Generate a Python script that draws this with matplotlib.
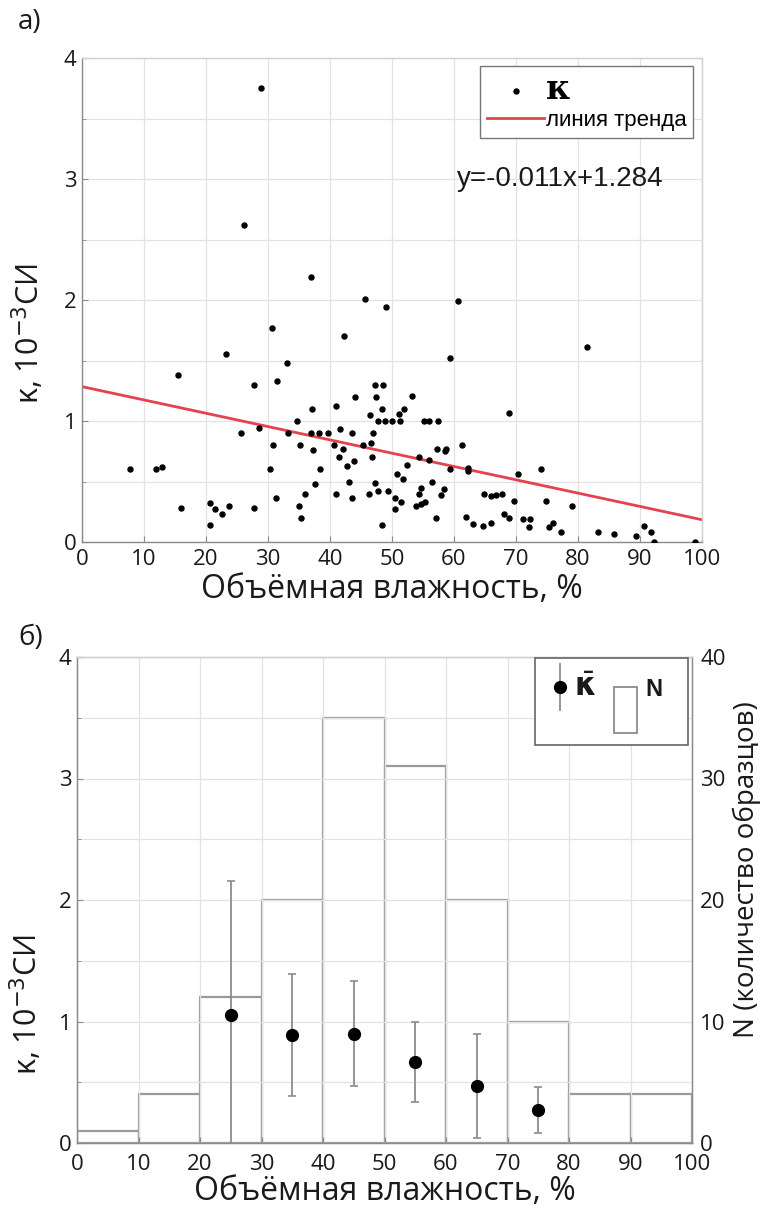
import matplotlib
matplotlib.use("Agg")
import matplotlib.pyplot as plt
from matplotlib.patches import Rectangle
from matplotlib.lines import Line2D

# --- panel (a): individual samples -------------------------------------
moisture = [
    7.8, 12.0, 12.9, 15.5, 15.9,
    20.6, 20.6, 21.4, 22.5, 23.2, 23.7, 25.7, 26.1, 27.7, 27.8, 28.5, 28.9,
    30.3, 30.7, 30.8, 31.3, 31.4, 33.1, 33.2, 34.6, 35.0, 35.2, 35.4, 35.9,
    36.9, 36.9, 37.1, 37.3, 37.5, 38.3, 38.4, 39.6,
    40.6, 40.9, 41.0, 41.4, 41.6, 42.1, 42.3, 42.7, 43.1, 43.5, 43.5, 43.9,
    44.0, 45.3, 45.6, 46.3, 46.5, 46.6, 46.8, 46.9, 47.3, 47.3, 47.4, 47.7,
    47.8, 48.4, 48.4, 48.5, 48.8, 49.0, 49.3,
    50.0, 50.5, 50.5, 50.8, 51.1, 51.3, 51.5, 51.7, 52.0, 52.4, 53.3, 53.9,
    54.4, 54.4, 54.7, 54.7, 55.1, 55.4, 56.0, 56.0, 56.5, 57.1, 57.3, 57.4,
    57.9, 58.4, 58.5, 58.7, 59.4, 59.4,
    60.6, 61.3, 62.0, 62.2, 62.2, 63.0, 64.6, 64.9, 66.0, 66.0, 66.8, 67.7,
    68.1, 68.8, 68.9, 69.7,
    70.4, 71.1, 72.1, 72.3, 74.0, 74.8, 75.4, 75.9, 77.3, 79.0,
    81.5, 83.3, 85.8, 89.4, 90.6, 91.8, 92.3, 98.8,
]
kappa = [
    0.60, 0.60, 0.62, 1.38, 0.28,
    0.32, 0.14, 0.27, 0.23, 1.55, 0.30, 0.90, 2.62, 1.30, 0.28, 0.94, 3.75,
    0.60, 1.77, 0.80, 0.36, 1.33, 1.48, 0.90, 1.00, 0.30, 0.80, 0.20, 0.40,
    2.19, 0.90, 1.10, 0.76, 0.48, 0.90, 0.60, 0.90,
    0.80, 0.40, 1.12, 0.70, 0.93, 0.77, 1.70, 0.63, 0.50, 0.90, 0.36, 0.67,
    1.20, 0.80, 2.01, 0.40, 1.05, 0.82, 0.70, 0.90, 1.30, 0.49, 1.20, 1.00,
    0.42, 1.10, 0.14, 1.30, 1.00, 1.94, 0.42,
    1.00, 0.36, 0.27, 0.56, 1.06, 1.00, 0.33, 0.52, 1.10, 0.64, 1.21, 0.30,
    0.70, 0.40, 0.45, 0.31, 1.00, 0.33, 1.00, 0.68, 0.50, 0.20, 0.77, 1.00,
    0.39, 0.44, 0.75, 0.77, 1.52, 0.60,
    1.99, 0.80, 0.21, 0.59, 0.61, 0.15, 0.13, 0.40, 0.38, 0.16, 0.39, 0.40,
    0.23, 1.07, 0.20, 0.34,
    0.56, 0.19, 0.12, 0.19, 0.60, 0.34, 0.12, 0.16, 0.08, 0.30,
    1.61, 0.08, 0.07, 0.05, 0.13, 0.08, 0.00, 0.00,
]
trend_slope = -0.011
trend_intercept = 1.284
trend_x = [0, 100]

# --- panel (b): binned statistics --------------------------------------
bin_left = [0, 10, 20, 30, 40, 50, 60, 70, 80, 90]
bin_counts = [1, 4, 12, 20, 35, 31, 20, 10, 4, 4]
mean_x = [25, 35, 45, 55, 65, 75]
mean_kappa = [1.05, 0.89, 0.90, 0.67, 0.47, 0.27]
kappa_sd = [1.11, 0.50, 0.43, 0.33, 0.43, 0.19]

x_ticks = list(range(0, 101, 10))
k_ticks = [0, 1, 2, 3, 4]
n_ticks = [0, 10, 20, 30, 40]

# --- styling ------------------------------------------------------------
W, H = 764, 1210
SANS = ["Open Sans", "DejaVu Sans"]
ARIAL = ["Liberation Sans", "DejaVu Sans"]
plt.rcParams["font.family"] = SANS
plt.rcParams["mathtext.fontset"] = "dejavusans"

GRID = "#e3e3e3"
SPINE = "#8a8a8a"
INK = "#1a1a1a"
TICK_FS = 16
XLABEL_FS = 23
YLABEL_FS = 22


def fx(px):
    return px / W


def fy(py):
    return 1 - py / H


def style_axes(ax, xpad):
    ax.set_xlim(0, 100)
    ax.set_ylim(0, 4)
    ax.set_xticks(x_ticks)
    ax.set_yticks(k_ticks)
    ax.set_yticks([v + 0.5 for v in k_ticks[:-1]], minor=True)
    ax.grid(True, which="both", color=GRID, linewidth=0.9)
    ax.set_axisbelow(True)
    ax.tick_params(which="both", direction="in", colors=SPINE, labelcolor=INK,
                   labelsize=TICK_FS, length=4, pad=4)
    ax.tick_params(axis="x", pad=xpad)
    ax.tick_params(which="minor", length=3)
    for s in ax.spines.values():
        s.set_color(SPINE)
        s.set_linewidth(1.0)
    for s in ("top", "right"):
        ax.spines[s].set_color("#d0d0d0")


fig = plt.figure(figsize=(W / 100, H / 100), dpi=100)

# ---------------- (a) ----------------
ax1 = fig.add_axes([fx(82), fy(542), (702 - 82) / W, (542 - 58) / H])
style_axes(ax1, 5)
ax1.plot(moisture, kappa, linestyle="none", marker="o", markersize=3.6,
         color="black", label="κ", zorder=3)
trend_y = [trend_slope * x + trend_intercept for x in trend_x]
ax1.plot(trend_x, trend_y, color="#e6424e", linewidth=2.0,
         label="линия тренда", zorder=2)
ax1.text(60.5, 3.0, f"y={trend_slope}x+{trend_intercept}", fontsize=20,
         family=ARIAL, color=INK, va="center", ha="left")
ax1.set_xlabel("Объёмная влажность, %", fontsize=XLABEL_FS, labelpad=2,
               color=INK)
ax1.set_ylabel("κ, 10$^{-3}$СИ", fontsize=YLABEL_FS, color=INK)
ax1.yaxis.set_label_coords((46 - 82) / 620, (542 - 334) / 484)

leg = ax1.legend(loc="upper right", bbox_to_anchor=(fx(693), fy(66)),
                 bbox_transform=fig.transFigure, borderaxespad=0,
                 fontsize=16, handlelength=2.6, handletextpad=0.05,
                 borderpad=0.3, labelspacing=0.2, fancybox=False,
                 edgecolor="#777777", framealpha=1)
leg.get_frame().set_linewidth(1.0)
t_k, t_tr = leg.get_texts()
t_k.set_family(["DejaVu Serif"])
t_k.set_fontsize(24)
t_k.set_fontweight("bold")
t_tr.set_family(ARIAL)

fig.text(fx(18), fy(22), "а)", fontsize=20, va="center", ha="left", color=INK)

# ---------------- (b) ----------------
axb = fig.add_axes([fx(77), fy(1143), (692 - 77) / W, (1143 - 657) / H])
axn = axb.twinx()
axn.bar(bin_left, bin_counts, width=10, align="edge", facecolor="white",
        edgecolor="#9a9a9a", linewidth=1.6)
axn.set_ylim(0, 40)
axn.set_yticks(n_ticks)
axn.set_yticks([v + 5 for v in n_ticks[:-1]], minor=True)
axn.tick_params(which="both", direction="in", colors=SPINE, labelcolor=INK,
                labelsize=TICK_FS, length=4, pad=6)
axn.tick_params(which="minor", length=3)
axn.set_ylabel("N (количество образцов)", fontsize=20, color=INK)
axn.yaxis.set_label_coords((733 - 77) / 615, (1143 - 870) / 486)

# left axis above the histogram so its grid and markers stay visible
axb.set_zorder(axn.get_zorder() + 1)
axb.patch.set_visible(False)
style_axes(axb, 8)
for s in ("left", "right", "bottom"):
    axb.spines[s].set_color(SPINE)
for s in axn.spines.values():
    s.set_color(SPINE)
axb.errorbar(mean_x, mean_kappa, yerr=kappa_sd, fmt="o", color="black",
             markersize=8.5, ecolor="#8c8c8c", elinewidth=1.3, capsize=3,
             capthick=1.2, zorder=4)
axb.set_xlabel("Объёмная влажность, %", fontsize=XLABEL_FS, labelpad=0,
               color=INK)
axb.set_ylabel("κ, 10$^{-3}$СИ", fontsize=YLABEL_FS, color=INK)
axb.yaxis.set_label_coords((44 - 77) / 615, (1143 - 1005) / 486)

fig.text(fx(18), fy(638), "б)", fontsize=20, va="center", ha="left", color=INK)

# legend box of panel (b)
tf = fig.transFigure
fig.add_artist(Rectangle((fx(535), fy(745)), (688 - 535) / W, (745 - 658) / H,
                         transform=tf, facecolor="white", edgecolor="#666666",
                         linewidth=1.2, zorder=10))
fig.add_artist(Line2D([fx(560), fx(560)], [fy(664), fy(710)], transform=tf,
                      color="#8c8c8c", linewidth=1.3, zorder=11))
fig.add_artist(Line2D([fx(560)], [fy(687)], transform=tf, marker="o",
                      markersize=8.5, color="black", zorder=12))
fig.text(fx(574), fy(688), r"$\bar{\mathbf{\kappa}}$", fontsize=22, va="center",
         ha="left", zorder=12, color=INK)
fig.add_artist(Rectangle((fx(614), fy(733)), (637 - 614) / W, (733 - 687) / H,
                         transform=tf, facecolor="white", edgecolor="#8c8c8c",
                         linewidth=1.3, zorder=11))
fig.text(fx(645), fy(690), "N", fontsize=17, va="center", ha="left",
         family=ARIAL, fontweight="bold", zorder=12, color=INK)

fig.savefig("out.png", dpi=100)
